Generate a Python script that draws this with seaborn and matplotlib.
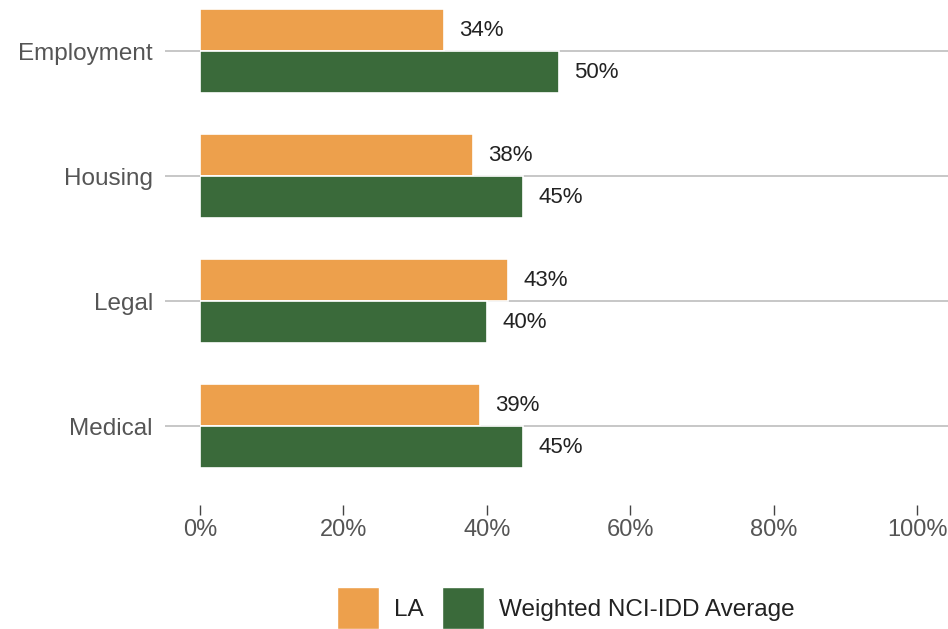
import pandas as pd
import numpy as np
import matplotlib.pyplot as plt
import seaborn as sns
from matplotlib.patches import Patch

# data
categories = ['Employment', 'Housing', 'Legal', 'Medical']
la_values = [34, 38, 43, 39]
nci_values = [50, 45, 40, 45]
series_names = ['LA', 'Weighted NCI-IDD Average']
x_ticks = [0, 20, 40, 60, 80, 100]

ORANGE = '#EDA04C'
GREEN = '#3A6A3A'

sns.set_style('white')
plt.rcParams['font.family'] = ['Liberation Sans', 'DejaVu Sans']

df = pd.DataFrame({
    'category': categories * 2,
    'value': la_values + nci_values,
    'series': [series_names[0]] * len(categories) + [series_names[1]] * len(categories),
})

fig = plt.figure(figsize=(9.48, 6.29), dpi=100)
ax = fig.add_axes([200 / 948, 1 - 505 / 629, 748 / 948, 505 / 629])

sns.barplot(data=df, y='category', x='value', hue='series', orient='h',
            palette=[ORANGE, GREEN], saturation=1, width=0.67, edgecolor='white',
            linewidth=1.2, legend=False, ax=ax, zorder=3)

# value labels to the right of each bar
for container, vals in zip(ax.containers, [la_values, nci_values]):
    ax.bar_label(container, labels=[f'{v}%' for v in vals], padding=11,
                 fontsize=16, color='#222222')

# horizontal grid lines at each category (extended left via tick marks)
for i in range(len(categories)):
    ax.axhline(i, color='#bdbdbd', linewidth=1.2, zorder=1)

ax.set_xlim(0, 104.3)
ax.set_ylim(3.63, -0.41)
ax.set_xticks(x_ticks)
ax.set_xticklabels([f'{t}%' for t in x_ticks])
ax.set_xlabel('')
ax.set_ylabel('')

for s in ax.spines.values():
    s.set_visible(False)

ax.tick_params(axis='y', length=25, width=1.2, color='#bdbdbd', pad=9,
               labelsize=17.5, labelcolor='#555555', left=True)
ax.tick_params(axis='x', length=7, width=1, color='#444444', pad=3,
               labelsize=17, labelcolor='#555555', bottom=True)
ax.grid(False)

handles = [Patch(facecolor=ORANGE, edgecolor='white'),
           Patch(facecolor=GREEN, edgecolor='white')]
fig.legend(handles, series_names, loc='center', bbox_to_anchor=(566 / 948, 1 - 608 / 629),
           ncol=2, frameon=False, fontsize=17.5, handlelength=1.73, handleheight=2.25,
           handletextpad=0.62, columnspacing=0.74, labelcolor='#222222')

plt.savefig('out.png', dpi=100)
plt.close()
